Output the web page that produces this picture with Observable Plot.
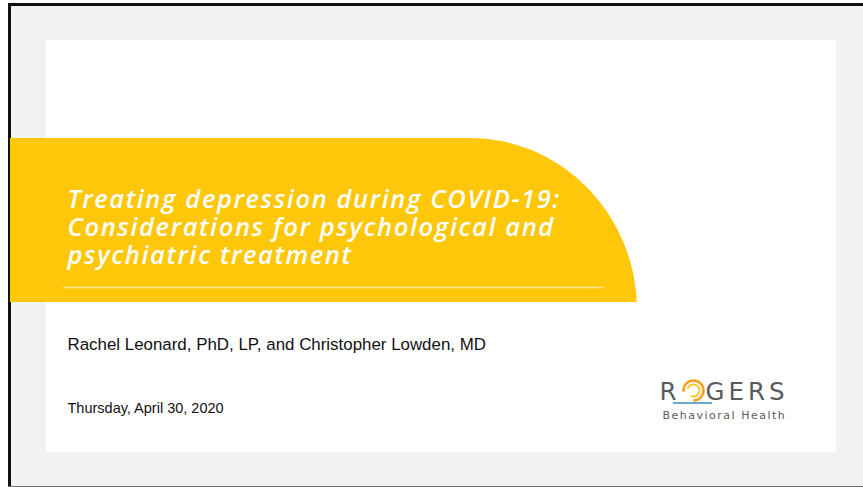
<!DOCTYPE html>
<html>
<head>
<meta charset="utf-8">
<script src="https://cdn.jsdelivr.net/npm/d3@7"></script>
<script src="https://cdn.jsdelivr.net/npm/@observablehq/plot@0.6"></script>
<style>
  html, body { margin: 0; padding: 0; background: #fff; }
</style>
</head>
<body>
<div id="chart"></div>
<script>
// ---- content ----
const titleLines = [
  "Treating depression during COVID-19:",
  "Considerations for psychological and",
  "psychiatric treatment"
];
const authors = ["Rachel Leonard, PhD, LP, and Christopher Lowden, MD"];
const dateLine = ["Thursday, April 30, 2020"];
const logoWord = ["R", "GERS"];
const logoSub = ["Behavioral Health"];

// ---- layout (pixel coordinates on an identity scale) ----
const W = 863, H = 487;
const YELLOW = "#FFC709", GREY = "#F1F2F1", LOGO = "#5a5b5d";

function box(x1, x2, y1, y2, opts) {
  return Plot.rect([{x1, x2, y1, y2}], {x1: "x1", x2: "x2", y1: "y1", y2: "y2", ...opts});
}

const titleText = [titleLines.join("\n")];
const logoRows = [{text: logoWord[0], x: 659, y: 399}, {text: logoWord[1], x: 705, y: 399}];

const chart = Plot.plot({
  width: W,
  height: H,
  margin: 0,
  x: {domain: [0, W], range: [0, W], axis: null},
  y: {domain: [0, H], range: [0, H], axis: null},
  style: {background: "#fff"},
  marks: [
    // outer frame
    box(8, W, 3, 487, {fill: "#111"}),
    box(11, W, 6, 486, {fill: GREY}),
    box(8, W, 486, 487, {fill: "#6f6f6f"}),
    // white slide
    box(46, 836, 40, 452, {fill: "#fff"}),
    // yellow banner: rounded top-right corner
    box(303, 637, 138, 482, {fill: YELLOW, rx: 167, ry: 172}),
    box(10, 470, 138, 302, {fill: YELLOW}),
    box(303, 637, 302, 452, {fill: "#fff"}),
    box(303, 637, 452, 486, {fill: GREY}),
    // underline
    Plot.ruleY([{y: 287, x1: 63, x2: 603}], {y: "y", x1: "x1", x2: "x2", stroke: "#fff", strokeOpacity: 0.55, strokeWidth: 1.5}),
    // title (three lines in one text)
    Plot.text(titleText, {
      x: () => 67, y: () => 263, text: d => d, textAnchor: "start", lineAnchor: "bottom",
      lineHeight: 28 / 25.5,
      fill: "#fff", fontFamily: "Open Sans", fontStyle: "italic", fontWeight: 600, fontSize: 25.5
    }),
    // authors and date
    Plot.text(authors, {
      x: () => 67, y: () => 349, text: d => d, textAnchor: "start", lineAnchor: "bottom",
      fill: "#111", fontFamily: "Liberation Sans", fontSize: 16.9
    }),
    Plot.text(dateLine, {
      x: () => 67, y: () => 412, text: d => d, textAnchor: "start", lineAnchor: "bottom",
      fill: "#111", fontFamily: "Liberation Sans", fontSize: 14.5
    }),
    // logo
    Plot.text(logoRows, {
      x: "x", y: "y", text: "text", textAnchor: "start", lineAnchor: "bottom",
      fill: LOGO, fontFamily: "DejaVu Sans", fontWeight: 400, fontSize: 24.5
    }),
    Plot.dot([{x: 693, y: 390}], {x: "x", y: "y", r: 10, fill: "none", stroke: "#F4A21E", strokeWidth: 2.5, strokeDasharray: "16 14 40"}),
    Plot.dot([{x: 693, y: 390}], {x: "x", y: "y", r: 6, fill: "none", stroke: "#FCC72A", strokeWidth: 2, strokeDasharray: "12 8 30"}),
    Plot.ruleY([{y: 402.5, x1: 673, x2: 712}], {y: "y", x1: "x1", x2: "x2", stroke: "#6AA8CE", strokeWidth: 2}),
    Plot.text(logoSub, {
      x: () => 662, y: () => 418, text: d => d, textAnchor: "start", lineAnchor: "bottom",
      fill: LOGO, fontFamily: "DejaVu Sans", fontSize: 11
    })
  ]
});

// letter spacing (tracking) per text
d3.select(chart).selectAll("text").each(function () {
  const t = this.textContent;
  let s = null;
  if (t.startsWith(titleLines[0])) s = 1.6;
  else if (t === logoWord[1]) s = 4;
  else if (t === logoSub[0]) s = 1.5;
  if (s != null) this.setAttribute("letter-spacing", s);
});
document.getElementById("chart").appendChild(chart);
</script>
</body>
</html>
